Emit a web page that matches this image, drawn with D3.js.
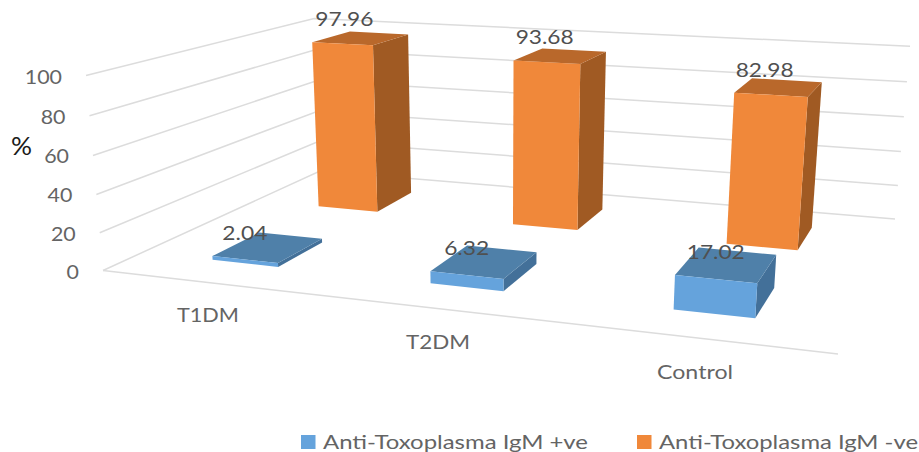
<!DOCTYPE html>
<html><head><meta charset="utf-8">
<script src="https://cdn.jsdelivr.net/npm/d3@7"></script>
<style>html,body{margin:0;padding:0;background:#fff}svg{display:block}text{font-family:Lato,"Open Sans",sans-serif}</style>
</head><body><svg id="c" width="919" height="452"></svg>
<script>
const categories = ["T1DM", "T2DM", "Control"];
const seriesNames = ["Anti-Toxoplasma IgM +ve", "Anti-Toxoplasma IgM -ve"];
const positiveValues = [2.04, 6.32, 17.02];
const negativeValues = [97.96, 93.68, 82.98];
const valueTicks = [0, 20, 40, 60, 80, 100];
const axisTitle = "%";

const svg = d3.select("#c");
// Perspective camera calibrated from the plot-box corners
const corners = {p0:[103,270.5], p1:[838,354], p2:[895,219], p3:[320,171], top0:[86,75.5], top2X:910};
function camera(){
  const [x0,y0]=corners.p0,[x1,y1]=corners.p1,[x2,y2]=corners.p2,[x3,y3]=corners.p3;
  const dx1=x1-x2,dx2=x3-x2,sx=x0-x1+x2-x3,dy1=y1-y2,dy2=y3-y2,sy=y0-y1+y2-y3;
  const den=dx1*dy2-dx2*dy1, g=(sx*dy2-dx2*sy)/den, h=(dx1*sy-sx*dy1)/den;
  const a=x1-x0+g*x1,b=x3-x0+h*x3,c=x0,d=y1-y0+g*y1,e=y3-y0+h*y3,f=y0;
  const [tx,ty]=corners.top0,tr=corners.top2X;
  const r=(a+b+tx-tr*(g+h+1))/(tr-tx), p=tx*(1+r)-c, q=ty*(1+r)-f;
  return (u,v,z)=>{const w=g*u+h*v+1+r*z;return [(a*u+b*v+c+p*z)/w,(d*u+e*v+f+q*z)/w];};
}
const project = camera();
const zScale = d3.scaleLinear().domain([0,100]).range([0,1]);
const uScale = d3.scaleBand().domain(categories).range([0,1]).paddingInner(0.688).paddingOuter(0.344);
const vScale = d3.scaleBand().domain(seriesNames).range([0,1]).paddingInner(0.59).paddingOuter(0.295);
const line = d3.line();

// gridlines
const grid = svg.append("g").attr("fill","none").attr("stroke","#dcdcdc").attr("stroke-width",1.5);
valueTicks.forEach(t=>{
  const z=zScale(t);
  grid.append("path").attr("d",line([project(0,0,z),project(0,1,z),project(1,1,z)]));
});
grid.append("path").attr("d",line([project(0,0,0),project(1,0,0)]));

function label(x,y,s,w,anchor,fill,size){
  return svg.append("text").attr("x",x).attr("y",y).attr("text-anchor",anchor).attr("fill",fill)
    .attr("font-size",size).attr("textLength",w).attr("lengthAdjust","spacingAndGlyphs").text(s);
}

// bars: back row first
const palette = [
  {front:"#65a3dc",top:"#4f80a9",side:"#437099"},
  {front:"#f0883a",top:"#b9682b",side:"#a05a23"}
];
const valueRows=[positiveValues,negativeValues];
[1,0].forEach(si=>{
  const name=seriesNames[si], col=palette[si];
  const v0=vScale(name), v1=v0+vScale.bandwidth();
  const g=svg.append("g");
  categories.forEach((cat,i)=>{
    const u0=uScale(cat),u1=u0+uScale.bandwidth(),z=zScale(valueRows[si][i]);
    const A=project(u0,v0,0),B=project(u1,v0,0),C=project(u1,v1,0),
          D=project(u0,v0,z),E=project(u1,v0,z),F=project(u1,v1,z),G=project(u0,v1,z);
    g.append("path").attr("d",line([B,C,F,E])+"Z").attr("fill",col.side);
    g.append("path").attr("d",line([D,E,F,G])+"Z").attr("fill",col.top);
    g.append("path").attr("d",line([A,B,E,D])+"Z").attr("fill",col.front);
  });
});

// data labels
[1,0].forEach(si=>{
  const name=seriesNames[si], v0=vScale(name);
  categories.forEach((cat,i)=>{
    const val=valueRows[si][i], uc=uScale(cat)+uScale.bandwidth()/2;
    const [x,y]=project(uc,v0,zScale(val));
    const dx=si===1?2-4*i:0, dy=si===1?-18:-20;
    const s=val.toFixed(2);
    label(x+dx,y+dy,s,s.length===5?58:45,"middle","#505050",20);
  });
});

// value axis labels
valueTicks.forEach(t=>{
  const [x,y]=project(0,0,zScale(t));
  const s=String(t);
  label(x-24,y+8,s,s.length*12.4,"end","#646464",20);
});
label(11,155,axisTitle,21,"start","#1a1a1a",25);

// category labels
const catX=d3.scaleOrdinal().domain(categories).range([208,438,695]);
const catY=d3.scaleOrdinal().domain(categories).range([322,349,379]);
const catW=d3.scaleOrdinal().domain(categories).range([62,64,76]);
categories.forEach(c=>label(catX(c),catY(c),c,catW(c),"middle","#646464",19));

// legend
const legX=d3.scaleOrdinal().domain(seriesNames).range([301,637]);
const legW=d3.scaleOrdinal().domain(seriesNames).range([265,259]);
seriesNames.forEach((n,i)=>{
  svg.append("rect").attr("x",legX(n)).attr("y",435).attr("width",14.5).attr("height",14).attr("fill",palette[i].front);
  label(legX(n)+22,449,n,legW(n),"start","#646464",20);
});
</script></body></html>
